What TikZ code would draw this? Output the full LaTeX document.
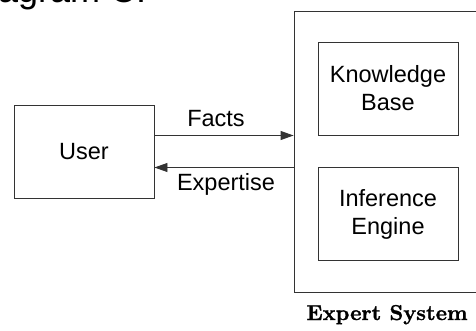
\documentclass[tikz,border=0pt]{standalone}
\usepackage{fontspec}
\newfontfamily\arialfont{Liberation Sans}
\newfontfamily\heavyserif[FakeBold=1.2]{lmroman10-bold.otf}
\usetikzlibrary{arrows.meta}
\tikzset{
  box/.style={draw=black!80, line width=0.9pt, fill=white, rectangle, inner sep=0pt,
              align=center, font=\arialfont\fontsize{23.5}{28}\selectfont},
  flow/.style={draw=black!80, line width=0.9pt, -{Triangle[length=13pt,width=9pt]}},
  lbl/.style={font=\arialfont\fontsize{23.5}{28}\selectfont, inner sep=0pt},
}
\begin{document}
\begin{tikzpicture}[x=1pt,y=-1pt]
  \useasboundingbox (0,0) rectangle (476,331);
  \clip (0,0) rectangle (476,331);
  \fill[white] (0,0) rectangle (476,331);

  % heading, mostly above the page edge
  \node[lbl, anchor=base west, font=\arialfont\fontsize{36}{40}\selectfont] (title) at (-36,3) {Diagram C:};

  % user
  \node[box, minimum width=140pt, minimum height=93pt] (user) at (84,151.5) {User};

  % expert system with its two parts
  \node[box, minimum width=200pt, minimum height=281pt] (exsys) at (394,151.5) {};
  \node[box, minimum width=140pt, minimum height=93pt] (kb) at (388,88.5) {Knowledge\\Base};
  \node[box, minimum width=140pt, minimum height=93pt] (ie) at (388,214) {Inference\\Engine};
  \node[anchor=base, inner sep=0pt, font=\heavyserif\fontsize{21.5}{24}\selectfont] (exlbl) at (387,320) {Expert System};

  % message flow
  \coordinate (fy) at (0,135.5);
  \coordinate (ey) at (0,167.5);
  \draw[flow] (user.east |- fy) -- (exsys.west |- fy);
  \draw[flow] (exsys.west |- ey) -- (user.east |- ey);
  \node[lbl, anchor=base] (facts) at (216,127) {Facts};
  \node[lbl, anchor=base] (expertise) at (226,190) {Expertise};
\end{tikzpicture}
\end{document}
